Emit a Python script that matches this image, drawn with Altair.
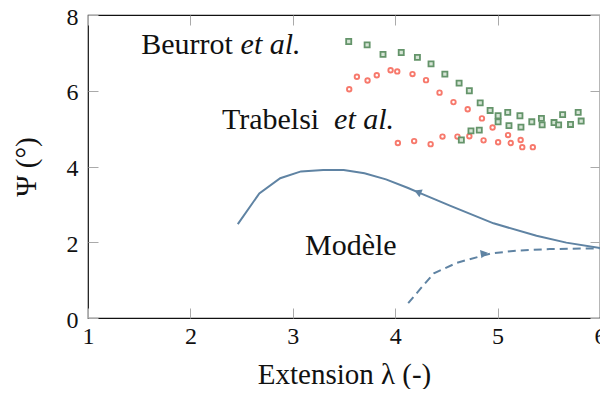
import altair as alt
import pandas as pd

# Trabelsi et al. (red circles)
trab_x = [3.551, 3.626, 3.730, 3.820, 3.955, 4.020, 4.169, 4.301, 4.433, 4.569, 4.708, 4.847,
          4.951, 5.102, 5.225, 5.241, 5.344, 5.128, 5.005, 4.863, 4.724, 4.608, 4.462, 4.346,
          4.185, 4.026]
trab_y = [6.04, 6.37, 6.27, 6.41, 6.54, 6.51, 6.44, 6.28, 5.95, 5.70, 5.51, 5.27,
          5.03, 4.83, 4.70, 4.51, 4.51, 4.62, 4.64, 4.69, 4.80, 4.79, 4.79, 4.59,
          4.67, 4.62]

# Beurrot et al. (green squares)
beur_x = [3.546, 3.726, 3.881, 4.059, 4.217, 4.350, 4.485, 4.624, 4.724, 4.830, 4.927, 5.005,
          5.099, 5.005, 5.111, 5.218, 5.228, 5.334, 5.428, 5.435, 5.551, 5.596, 5.635, 5.712,
          5.787, 5.816, 4.740, 4.821, 4.646]
beur_y = [7.30, 7.21, 6.96, 7.01, 6.88, 6.71, 6.44, 6.20, 6.00, 5.68, 5.48, 5.34,
          5.43, 5.18, 5.08, 5.34, 5.04, 5.18, 5.27, 5.10, 5.16, 5.10, 5.37, 5.11,
          5.43, 5.20, 4.94, 4.96, 4.70]

# Model (solid: unloading, dashed: loading)
mod_x = [2.463, 2.673, 2.877, 3.080, 3.297, 3.497, 3.700, 3.910, 4.120, 4.249, 4.540, 4.960,
         5.380, 5.671, 6.0]
mod_y = [2.48, 3.29, 3.69, 3.87, 3.91, 3.91, 3.82, 3.66, 3.44, 3.29, 2.96, 2.50,
         2.17, 1.99, 1.85]
load_x = [4.127, 4.249, 4.378, 4.605, 4.927, 5.186, 5.509, 6.0]
load_y = [0.39, 0.78, 1.18, 1.46, 1.70, 1.78, 1.82, 1.84]

# arrow positions on the curves
arrow_solid = {"x": [4.22], "y": [3.33]}
arrow_dash = {"x": [4.87], "y": [1.705]}

x_ticks = [1, 2, 3, 4, 5, 6]
y_ticks = [0, 2, 4, 6, 8]

# annotations
ann_normal = {"x": [1.520, 2.308, 3.119], "y": [6.97, 4.99, 1.663],
              "t": ["Beurrot", "Trabelsi", "Modèle"]}
ann_italic = {"x": [2.490, 3.403], "y": [6.97, 4.99], "t": ["et al.", "et al."]}

FONT = "Liberation Serif"
LINE = "#5f83a3"

xs = alt.Scale(domain=[1, 6], nice=False, zero=False)
ys = alt.Scale(domain=[0, 8], nice=False, zero=False)

ax_bottom = alt.Axis(values=x_ticks, format="d", orient="bottom", offset=-10, tickSize=10,
                     labelPadding=6, title="Extension λ (-)", titleBaseline="alphabetic",
                     titleY=75, labelFlush=False, labelOverlap=False, labelBound=False)
ax_left = alt.Axis(values=y_ticks, format="d", orient="left", offset=-10, tickSize=10,
                   labelPadding=10, labelOffset=2, title="Ψ (°)", titlePadding=25,
                   labelFlush=False, labelOverlap=False, labelBound=False)
ax_top = alt.Axis(values=x_ticks, orient="top", offset=-10, tickSize=10, labels=False, title=None)
ax_right = alt.Axis(values=y_ticks, orient="right", offset=-10, tickSize=10, labels=False, title=None)

df_t = pd.DataFrame({"x": trab_x, "y": trab_y})
df_b = pd.DataFrame({"x": beur_x, "y": beur_y})
df_m = pd.DataFrame({"x": mod_x, "y": mod_y})
df_l = pd.DataFrame({"x": load_x, "y": load_y})

red = alt.Chart(df_t).mark_point(shape="circle", filled=False, size=20, strokeWidth=1.9,
                                 color="#f7796c", opacity=1).encode(
    x=alt.X("x:Q", scale=xs, axis=ax_bottom),
    y=alt.Y("y:Q", scale=ys, axis=ax_left))

green = alt.Chart(df_b).mark_point(shape="square", filled=True, size=26, strokeWidth=1.8,
                                   fill="#d5e4d5", stroke="#64946a", opacity=1).encode(
    x=alt.X("x:Q", scale=xs, axis=ax_top),
    y=alt.Y("y:Q", scale=ys, axis=ax_right))

solid = alt.Chart(df_m).mark_line(color=LINE, strokeWidth=2).encode(
    x=alt.X("x:Q", scale=xs, axis=None), y=alt.Y("y:Q", scale=ys, axis=None))

dashed = alt.Chart(df_l).mark_line(color=LINE, strokeWidth=2, strokeDash=[8, 5]).encode(
    x=alt.X("x:Q", scale=xs, axis=None), y=alt.Y("y:Q", scale=ys, axis=None))

arr1 = alt.Chart(pd.DataFrame(arrow_solid)).mark_point(
    shape="triangle-up", filled=True, size=70, angle=293, color=LINE, opacity=1).encode(
    x=alt.X("x:Q", scale=xs, axis=None), y=alt.Y("y:Q", scale=ys, axis=None))

arr2 = alt.Chart(pd.DataFrame(arrow_dash)).mark_point(
    shape="triangle-up", filled=True, size=70, angle=80, color=LINE, opacity=1).encode(
    x=alt.X("x:Q", scale=xs, axis=None), y=alt.Y("y:Q", scale=ys, axis=None))

txt1 = alt.Chart(pd.DataFrame(ann_normal)).mark_text(
    font=FONT, fontSize=30, align="left", baseline="alphabetic", color="#111").encode(
    x=alt.X("x:Q", scale=xs, axis=None), y=alt.Y("y:Q", scale=ys, axis=None), text="t:N")

txt2 = alt.Chart(pd.DataFrame(ann_italic)).mark_text(
    font=FONT, fontSize=30, fontStyle="italic", align="left", baseline="alphabetic",
    color="#111").encode(
    x=alt.X("x:Q", scale=xs, axis=None), y=alt.Y("y:Q", scale=ys, axis=None), text="t:N")

chart = alt.layer(red, green, solid, dashed, arr1, arr2, txt1, txt2).resolve_axis(
    x="independent", y="independent"
).properties(
    width=512, height=303,
    autosize=alt.AutoSizeParams(type="none"),
    padding={"left": 80, "top": 7, "right": 0, "bottom": 71},
    background="white",
).configure_view(
    stroke="#111", strokeWidth=1.2
).configure_axis(
    grid=False, domain=False, tickColor="#aaaaaa", tickWidth=1,
    labelFont=FONT, labelFontSize=24, labelColor="#111",
    titleFont=FONT, titleFontSize=29, titleColor="#111", titleFontWeight="normal",
)

chart.save("out.html", embed_options={"renderer": "svg", "actions": False})
